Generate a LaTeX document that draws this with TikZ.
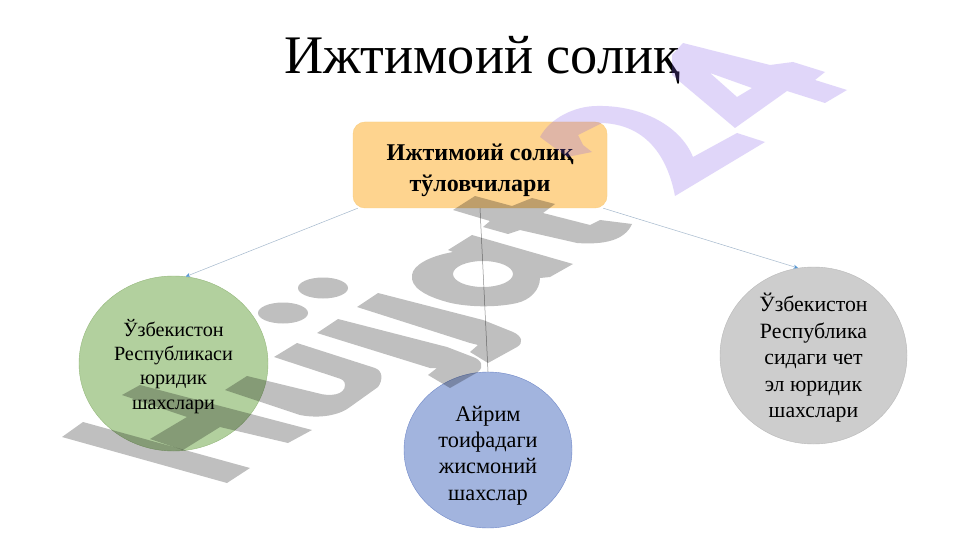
\documentclass[tikz,border=0pt]{standalone}
\usepackage{fontspec}
\setmainfont{Liberation Serif}
\usetikzlibrary{arrows.meta,shapes.geometric}
\definecolor{boxfill}{RGB}{254,212,143}
\definecolor{boxline}{RGB}{250,205,125}
\definecolor{greenfill}{RGB}{178,208,158}
\definecolor{greenline}{RGB}{150,185,125}
\definecolor{bluefill}{RGB}{162,180,222}
\definecolor{blueline}{RGB}{112,136,200}
\definecolor{grayfill}{RGB}{205,205,205}
\definecolor{grayline}{RGB}{185,185,185}
\definecolor{linkblue}{RGB}{165,185,205}
\definecolor{tipblue}{RGB}{85,150,210}
\definecolor{markpurple}{RGB}{135,95,235}
\tikzset{
  x=1pt,y=-1pt,
  link/.style={draw=linkblue,line width=.5pt,-{Stealth[length=4.5pt,width=4pt,color=tipblue]}},
  midlink/.style={draw=black!45,line width=.5pt},
  bubble/.style={ellipse,inner sep=-40pt,align=center,line width=.4pt},
  wmgray/.style={fill=black,fill opacity=.25,even odd rule},
  wmpurple/.style={fill=markpurple,fill opacity=.25,even odd rule},
}
\begin{document}
\begin{tikzpicture}
\useasboundingbox (0,0) rectangle (961,540);
\fill[white] (0,0) rectangle (961,540);
\node[anchor=base,inner sep=0pt,font=\fontsize{54.3}{54}\selectfont] (title) at (482,74) {Ижтимоий солиқ};
\node[draw=boxline,fill=boxfill,rounded corners=12pt,minimum width=254pt,minimum height=86pt,inner sep=0pt,align=center,line width=.4pt,font=\fontsize{24}{31}\selectfont\bfseries] (root) at (480,165)
  {\rule{0pt}{28pt}Ижтимоий солиқ\\тўловчилари};
\node[bubble,draw=greenline,fill=greenfill,minimum width=189pt,minimum height=175pt,font=\fontsize{20.2}{24.2}\selectfont] (green) at (173.5,363.5)
  {\rule{0pt}{23pt}Ўзбекистон\\Республикаси\\юридик\\шахслари};
\node[bubble,draw=blueline,fill=bluefill,minimum width=168pt,minimum height=156pt,font=\fontsize{22.3}{26.3}\selectfont] (blue) at (488,450)
  {\rule{0pt}{26pt}Айрим\\тоифадаги\\жисмоний\\шахслар};
\node[bubble,draw=grayline,fill=grayfill,minimum width=187pt,minimum height=177pt,font=\fontsize{21.8}{26.6}\selectfont] (gray) at (813.5,355.5)
  {\rule{0pt}{23pt}Ўзбекистон\\Республика\\сидаги чет\\эл юридик\\шахслари};
\draw[link] ([xshift=5pt]root.south west) -- (green.82.5);
\draw[midlink] (root.south) -- (blue.north);
\draw[link] ([xshift=-4pt]root.south east) -- (gray.100);
% watermark artwork
\path[wmgray] (62,437)--(83,422)--(250,468)--(227,483)--cycle;
\path[wmgray] (122,395)--(140,385)--(312,430)--(288,443)--(220,427)--(183,450)--(150,439)--(187,417)--cycle;
\path[wmgray] (297,343)--(375,368) .. controls (383,371) and (383,380) .. (378,387) -- (350,407) .. controls (340,415) and (320,419) .. (300,415) -- (225,390)--(247,376)--(317,393) .. controls (330,397) and (345,395) .. (345,385) .. controls (345,381) and (342,379) .. (338,378) -- (274,357)--cycle;
\path[wmgray] (338,319)--(447,347)--(473,357) .. controls (482,360) and (484,367) .. (478,372) -- (450,388)--(428,375)--(437,368)--(430,368)--(317,333)--cycle;
\path[wmgray] (378,293)--(483,320)--(513,332) .. controls (522,336) and (524,343) .. (517,347) -- (488,363)--(470,352)--(478,345)--(470,343)--(357,307)--cycle;
\path[wmgray] (323,288) ellipse[x radius=25,y radius=10.5];
\path[wmgray] (283,313) ellipse[x radius=25,y radius=10.5];
\path[wmgray] (472,235)--(573,264)--(550,277)--(540,278) .. controls (540,290) and (530,300) .. (517,303) .. controls (495,308) and (465,307) .. (447,302) .. controls (425,296) and (410,287) .. (412,275) .. controls (413,265) and (430,256) .. (453,252) -- (448,250)--cycle
  (483,274) ellipse[x radius=30,y radius=13];
\path[wmgray] (475,196)--(512,206)--(532,198)--(555,204)--(543,213)--(590,225)--(600,220)--(632,224) .. controls (625,240) and (605,245) .. (577,243) -- (520,230)--(508,234)--(483,227)--(490,221)--(453,210)--cycle;
\path[wmpurple] (683,43)--(770,65)--(793,62)--(825,72)--(815,80)--(847,90)--(825,103)--(787,91)--(735,128)--(672,75)--(672,55)--cycle
  (710,73)--(752,88)--(737,97)--cycle;
\path[wmpurple] (540,137) .. controls (550,118) and (575,106) .. (597,106) .. controls (640,105) and (680,125) .. (693,157) -- (737,133)--(765,142)--(675,196) .. controls (670,170) and (655,125) .. (602,123) -- (578,135)--(583,145)--(592,152)--(567,157)--cycle;
\end{tikzpicture}
\end{document}
